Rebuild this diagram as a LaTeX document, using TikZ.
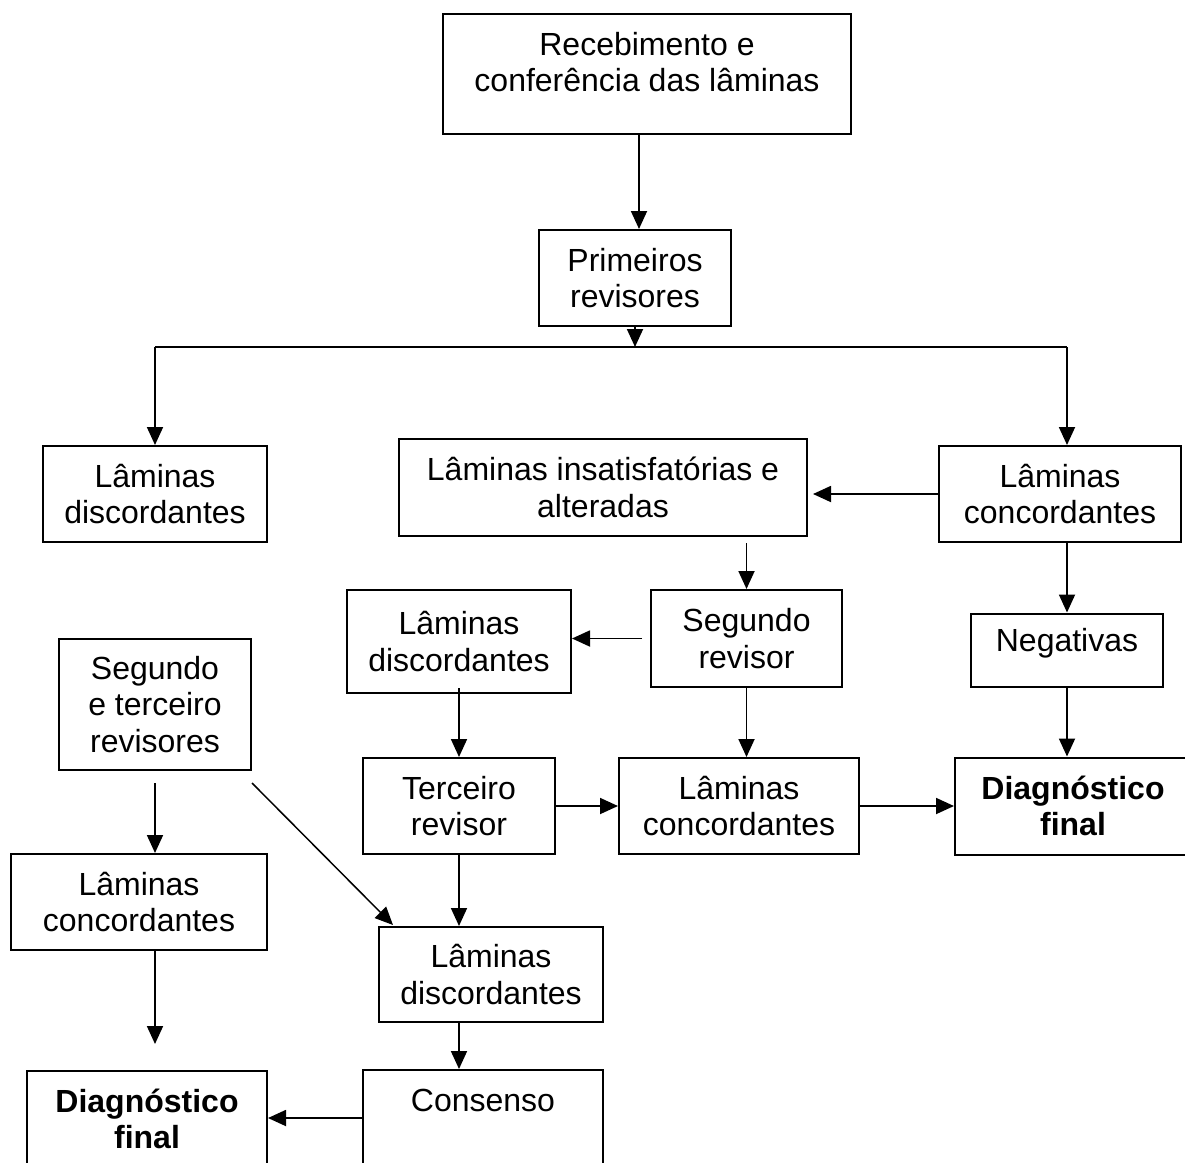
\documentclass[tikz,border=0pt]{standalone}
\usepackage{fontspec}
\setmainfont{Liberation Sans}
\usetikzlibrary{arrows.meta,calc}
\tikzset{
  txt/.style={font=\fontsize{32}{36.5}\selectfont, align=center},
  box/.style={draw=black, line width=2pt, rectangle, inner sep=0pt, txt},
  arr/.style={line width=1.8pt, -{Triangle[length=18pt,width=16pt]}},
  ln/.style={line width=1.8pt}
}
\begin{document}
\begin{tikzpicture}[x=1pt,y=-1pt]
\clip (0,0) rectangle (1185,1162);
\fill[white] (0,0) rectangle (1185,1162);

% boxes
\node[box, minimum width=408pt, minimum height=120pt] (rec) at (647,74) {};
\node[txt] at (647,62) {Recebimento e\\conferência das lâminas};

\node[box, minimum width=192pt, minimum height=96pt] (prim) at (635,278) {Primeiros\\revisores};

\node[box, minimum width=224pt, minimum height=96pt] (discL) at (155,494) {Lâminas\\discordantes};
\node[box, minimum width=408pt, minimum height=97pt] (insat) at (603,487.5) {Lâminas insatisfatórias e\\alteradas};
\node[box, minimum width=242pt, minimum height=96pt] (concR) at (1060,494) {Lâminas\\concordantes};

\node[box, minimum width=192pt, minimum height=131pt] (ste) at (155,704.5) {Segundo\\e terceiro\\revisores};
\node[box, minimum width=224pt, minimum height=103pt] (discM) at (459,641.5) {Lâminas\\discordantes};
\node[box, minimum width=191pt, minimum height=97pt] (seg) at (746.5,638.5) {Segundo\\revisor};
\node[box, minimum width=192pt, minimum height=73pt] (negat) at (1067,650) {};
\node[txt] at (1067,643) {Negativas};

\node[box, minimum width=192pt, minimum height=96pt] (terc) at (459,806) {Terceiro\\revisor};
\node[box, minimum width=240pt, minimum height=96pt] (concM) at (739,806) {Lâminas\\concordantes};
\node[box, minimum width=236pt, minimum height=97pt] (diagR) at (1073,806) {\bfseries Diagnóstico\\\bfseries final};

\node[box, minimum width=256pt, minimum height=96pt] (concL) at (139,902) {Lâminas\\concordantes};
\node[box, minimum width=224pt, minimum height=95pt] (discB) at (491,974.5) {Lâminas\\discordantes};

\node[box, minimum width=240pt, minimum height=96pt] (diagL) at (147,1119) {\bfseries Diagnóstico\\\bfseries final};
\node[box, minimum width=240pt, minimum height=120pt] (cons) at (483,1130) {};
\node[txt] at (483,1100) {Consenso};

% connectors
\draw[arr] (rec.south -| 639,0) -- (prim.north -| 639,0);
\coordinate (j) at (prim.south |- 0,347);
\draw[arr] (prim.south) -- (j);
\coordinate (jl) at (discL.north |- j);
\coordinate (jr) at (negat.north |- j);
\draw[ln] (jl) -- (jr);
\draw[arr] (jl) -- (discL.north);
\draw[arr] (jr) -- (jr |- concR.north);

\draw[arr, shorten >=5pt] (concR.west) -- (concR.west -| insat.east);
\draw[arr, shorten <=6pt] (insat.south -| seg.north) -- (seg.north);
\draw[arr, shorten <=8pt] (seg.west) -- (seg.west -| discM.east);
\draw[arr, shorten <=-6pt] (discM.south) -- (terc.north);
\draw[arr] (seg.south) -- (seg.south |- concM.north);
\draw[arr] (terc.east) -- (concM.west);
\draw[arr] (concM.east) -- (diagR.west);
\draw[arr] (concR.south -| negat.north) -- (negat.north);
\draw[arr] (negat.south) -- (negat.south |- diagR.north);
\draw[arr] (terc.south) -- (terc.south |- discB.north);

\draw[arr, shorten <=12pt] (ste.south) -- (ste.south |- concL.north);
\draw[arr, line width=1.5pt] ($(ste.south east)+(0,12)$) -- ($(discB.north west)+(15,-1)$);
\draw[arr, shorten >=26pt] (concL.south -| ste.south) -- (diagL.north -| ste.south);
\draw[arr] (discB.south -| terc.south) -- (cons.north -| terc.south);
\draw[arr] (cons.west |- 0,1118) -- (diagL.east |- 0,1118);
\end{tikzpicture}
\end{document}
